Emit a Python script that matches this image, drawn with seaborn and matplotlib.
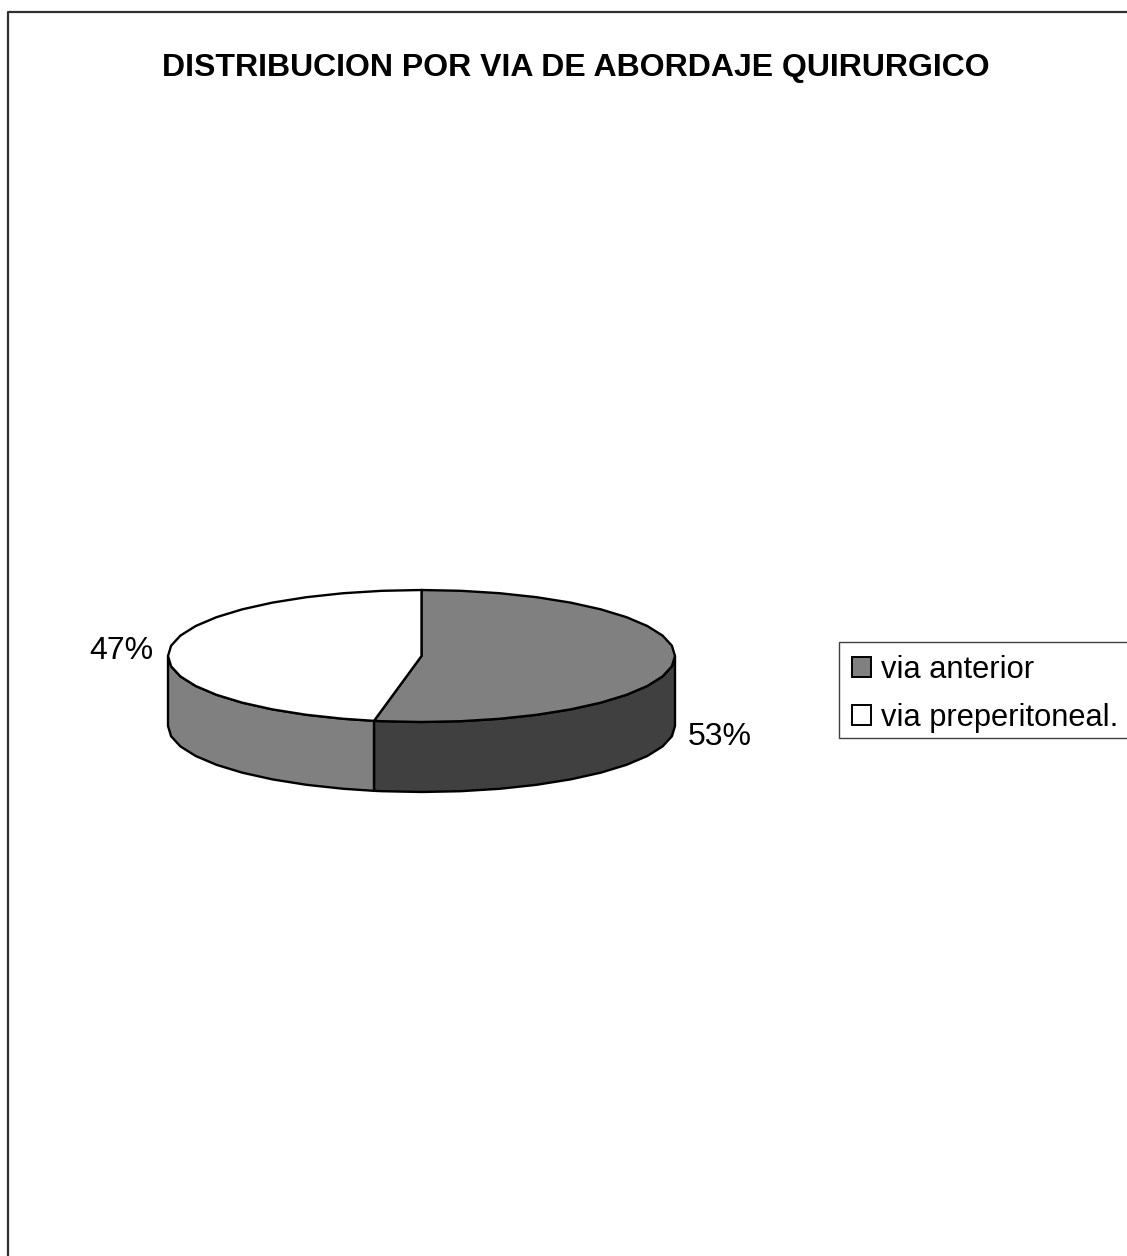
import numpy as np
import matplotlib
matplotlib.use("Agg")
import matplotlib.pyplot as plt
from matplotlib.patches import Patch, Rectangle
import seaborn as sns

# Survey results
title = "DISTRIBUCION POR VIA DE ABORDAJE QUIRURGICO"
categories = ["via anterior", "via preperitoneal."]
shares = [53, 47]
top_colors = ["#808080", "#ffffff"]
side_colors = ["#404040", "#808080"]

sns.set_theme(style="white")
plt.rcParams["font.family"] = ["Liberation Sans", "DejaVu Sans"]

W, H = 1127, 1256
fig = plt.figure(figsize=(W / 100, H / 100), dpi=100, facecolor="white")
ax = fig.add_axes([0, 0, 1, 1])
ax.set_xlim(0, W)
ax.set_ylim(H, 0)
ax.axis("off")

# Geometry of the tilted disc, in pixels
cx, cy, rx, ry, depth = 421.5, 656.0, 253.5, 66.0, 70.0
FACET = 9.0  # degrees per outline segment
EDGE = 1.7


def arc(a0, a1):
    """Points on the rim between two clockwise angles measured from 12 o'clock."""
    inner = np.arange(np.ceil(a0 / FACET), np.floor(a1 / FACET) + 1) * FACET
    ang = np.radians(np.unique(np.concatenate([[a0], inner, [a1]])))
    return cx + rx * np.sin(ang), cy - ry * np.cos(ang)


# Slice boundaries derive from the stated percentages
edges = np.concatenate([[0], np.cumsum(shares) / np.sum(shares) * 360])

# Side walls: only the front half of the rim is visible
for i in range(len(shares)):
    a0, a1 = max(edges[i], 90), min(edges[i + 1], 270)
    if a1 <= a0:
        continue
    x, y = arc(a0, a1)
    ax.fill(np.r_[x, x[::-1]], np.r_[y, y[::-1] + depth],
            facecolor=side_colors[i], edgecolor="black", lw=EDGE, joinstyle="round")

# Top faces
for i in range(len(shares)):
    x, y = arc(edges[i], edges[i + 1])
    ax.fill(np.r_[cx, x], np.r_[cy, y],
            facecolor=top_colors[i], edgecolor="black", lw=EDGE, joinstyle="round")

ax.text(575.5, 68, title, ha="center", va="center", fontsize=23.05, fontweight="bold", color="black")
ax.text(153.5, 651, f"{shares[1]}%", ha="right", va="center", fontsize=23, color="black")
ax.text(688, 737, f"{shares[0]}%", ha="left", va="center", fontsize=23, color="black")

# Outer chart frame, open at the right and bottom
ax.plot([8, 8, W + 5], [H + 5, 12, 12], color="#303030", lw=1.6, clip_on=True)

# Legend box runs past the right edge of the canvas
ax.add_patch(Rectangle((839, 642), 300, 96, facecolor="white", edgecolor="#404040", lw=1.0))
handles = [Patch(facecolor=c, edgecolor="black", lw=1.4) for c in top_colors]
leg = ax.legend(handles, categories, loc="upper left",
                bbox_to_anchor=(852, 655), bbox_transform=ax.transData,
                fontsize=22.2, frameon=False, borderaxespad=0,
                borderpad=0, labelspacing=0.59, handlelength=0.62, handleheight=0.62,
                handletextpad=0.32, labelcolor="black")

fig.savefig("out.png", dpi=100, facecolor="white")
